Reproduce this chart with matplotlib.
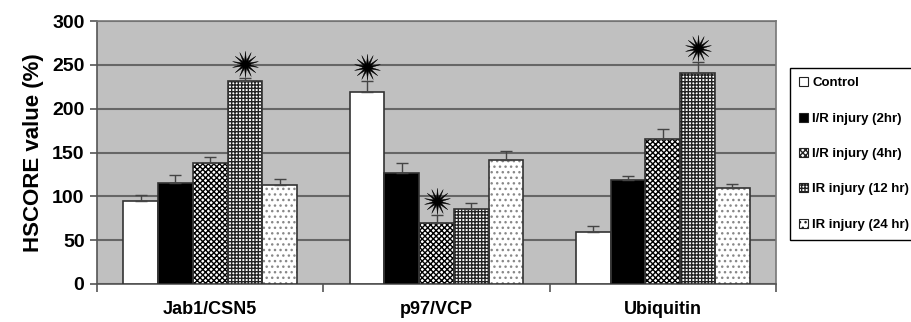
import matplotlib
matplotlib.use("Agg")
import matplotlib.pyplot as plt
import numpy as np
from matplotlib.patches import Patch
from matplotlib.path import Path

plt.rcParams['font.family'] = ['Liberation Sans', 'DejaVu Sans']

categories = ["Jab1/CSN5", "p97/VCP", "Ubiquitin"]
series = ["Control", "I/R injury (2hr)", "I/R injury (4hr)", "IR injury (12 hr)", "IR injury (24 hr)"]
values = {
    "Control":           [95, 219, 59],
    "I/R injury (2hr)":  [115, 127, 119],
    "I/R injury (4hr)":  [138, 70, 165],
    "IR injury (12 hr)": [232, 86, 241],
    "IR injury (24 hr)": [113, 141, 109],
}
errors = {
    "Control":           [7, 12, 7],
    "I/R injury (2hr)":  [9, 11, 4],
    "I/R injury (4hr)":  [6.5, 9, 12],
    "IR injury (12 hr)": [3, 6, 12],
    "IR injury (24 hr)": [7, 11, 5],
}
# significant bars marked with a star: (category index, series name)
stars = [(0, "IR injury (12 hr)"), (1, "Control"), (1, "I/R injury (4hr)"), (2, "IR injury (12 hr)")]
yticks = [0, 50, 100, 150, 200, 250, 300]

styles = {
    "Control":           dict(fc="white", hatch=None, hc="white"),
    "I/R injury (2hr)":  dict(fc="black", hatch=None, hc="black"),
    "I/R injury (4hr)":  dict(fc="white", hatch="xxxxxx", hc="black"),
    "IR injury (12 hr)": dict(fc="white", hatch="+++++", hc="#222222"),
    "IR injury (24 hr)": dict(fc="white", hatch="...", hc="#888888"),
}

# starburst marker shape
npts = 14
ang = np.linspace(0, 2 * np.pi, 2 * npts, endpoint=False) + np.pi / 2
rad = np.where(np.arange(2 * npts) % 2 == 0, 1.0, 0.3)
verts = np.column_stack([rad * np.cos(ang), rad * np.sin(ang)])
verts = np.vstack([verts, verts[:1]])
codes = [Path.MOVETO] + [Path.LINETO] * (len(verts) - 2) + [Path.CLOSEPOLY]
burst = Path(verts, codes)

fig = plt.figure(figsize=(9.11, 3.22), dpi=100)
ax = fig.add_axes([97/911, 38/322, 679/911, 263/322])
ax.set_facecolor("#C0C0C0")

x = np.arange(len(categories))
w = 0.1534
plt.rcParams['hatch.linewidth'] = 1.0
for i, s in enumerate(series):
    st = styles[s]
    pos = x + (i - 2) * w
    ax.bar(pos, values[s], width=w, facecolor=st["fc"], edgecolor=st["hc"],
           hatch=st["hatch"], linewidth=0, zorder=3)
    ax.bar(pos, values[s], width=w, fill=False, edgecolor="#333333",
           linewidth=1.2, zorder=4)
    ax.errorbar(pos, values[s], yerr=[np.zeros(len(categories)), errors[s]],
                fmt="none", ecolor="#444444", elinewidth=1.0, capsize=4,
                capthick=1.0, zorder=5)

for ci, s in stars:
    i = series.index(s)
    ax.plot(x[ci] + (i - 2) * w, values[s][ci] + errors[s][ci] + 16,
            marker=burst, markersize=19, color="black", zorder=6,
            markeredgewidth=0.3)

ax.set_xlim(-0.5, 2.5)
ax.set_ylim(0, 300)
ax.set_yticks(yticks)
ax.yaxis.grid(True, color="#666666", linewidth=1.5, zorder=1)
ax.set_axisbelow(True)
ax.set_xticks(x)
ax.set_xticklabels(categories, fontsize=13, fontweight="bold")
ax.set_xticks([-0.5, 0.5, 1.5, 2.5], minor=True)
ax.tick_params(axis="x", which="major", length=0, pad=12)
ax.tick_params(axis="x", which="minor", length=6, direction="out", color="#555555", width=1.2)
ax.tick_params(axis="y", length=5, direction="out", color="#555555", width=1.2, pad=4,
               labelsize=14)
for lab in ax.get_yticklabels():
    lab.set_fontweight("bold")
for sp in ax.spines.values():
    sp.set_color("#777777")
    sp.set_linewidth(1.2)
ax.spines["left"].set_color("#555555")
ax.spines["bottom"].set_color("#555555")
ax.set_ylabel("HSCORE value (%)", fontsize=16, fontweight="bold", labelpad=6)

handles = []
for s in series:
    st = styles[s]
    handles.append(Patch(facecolor=st["fc"], edgecolor="#222222", hatch=st["hatch"], linewidth=0.8))
leg = fig.legend(handles, series, loc="upper left", bbox_to_anchor=(790/911, 1 - 68/322),
                 frameon=True, fancybox=False, edgecolor="black", framealpha=1,
                 prop=dict(size=9.5, weight="bold"), handlelength=0.7, handleheight=0.7,
                 handletextpad=0.3, labelspacing=1.75, borderpad=0.7, borderaxespad=0)
leg.get_frame().set_linewidth(1.0)

fig.savefig("out.png", dpi=100)
